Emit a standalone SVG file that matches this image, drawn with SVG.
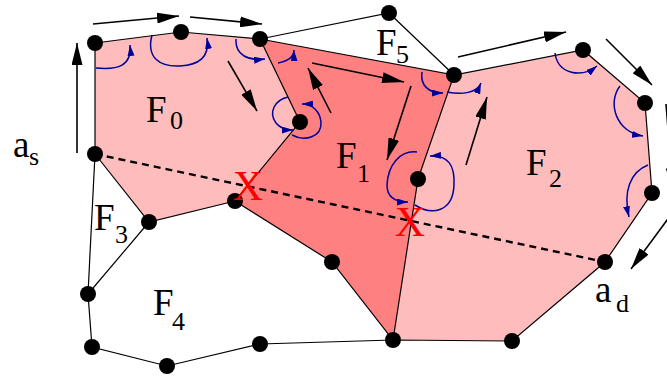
<svg xmlns="http://www.w3.org/2000/svg" width="667" height="376" viewBox="0 0 667 376">
<defs>
<marker id="ah" markerUnits="userSpaceOnUse" viewBox="0 0 22 11" refX="22" refY="5.5" markerWidth="22" markerHeight="11" orient="auto"><path d="M0,0 L22,5.5 L0,11 z" fill="#000"/></marker>
<marker id="bh" markerUnits="userSpaceOnUse" viewBox="0 0 11 7" refX="11" refY="3.5" markerWidth="11" markerHeight="7" orient="auto"><path d="M0,0 L11,3.5 L0,7 z" fill="#00009c"/></marker>
<style>
.e{stroke:#000;stroke-width:1.2;fill:none}
.a{stroke:#000;stroke-width:1.6;fill:none;marker-end:url(#ah)}
.b{stroke:#00009c;stroke-width:1.5;fill:none;marker-end:url(#bh)}
.n{fill:#000}
.t{font-family:"Liberation Serif","Times New Roman",serif;fill:#000}
.m{font-size:37px}
.s{font-size:26px}
.x{font-family:"Liberation Serif","Times New Roman",serif;font-size:42px;fill:#ff0000;text-anchor:middle}
</style>
</defs>
<g id="faces">
<polygon id="F0" points="95,43 181,32 260,39 300,122 235,201 149,222 95,154" fill="#ffbcbc"/>
<polygon id="F1" points="260,39 454,75 418,179 393,340 332,262 235,201 300,122" fill="#ff8080"/>
<polygon id="F2" points="454,75 583,50 645,103 652,193 605,262 512,341 393,340 418,179" fill="#ffbcbc"/>
</g>
<g id="connectors">
<path class="e" d="M95,43 L181,32 L260,39 L389,13 L454,75 L583,50 L645,103 L652,193 L605,262 L512,341 L393,340 L260,344 L167,366 L92,347 L88,294 L95,154 L95,43"/>
<path class="e" d="M260,39 L454,75 L418,179 L393,340 L332,262 L235,201 L300,122 L260,39"/>
<path class="e" d="M235,201 L149,222 L95,154 M149,222 L88,294"/>
<line x1="95" y1="154" x2="605" y2="262" stroke="#000" stroke-width="2.4" stroke-dasharray="7,5"/>
<line class="a" x1="77" y1="153" x2="77" y2="43"/>
<line class="a" x1="93" y1="24" x2="179" y2="16"/>
<line class="a" x1="190" y1="17" x2="262" y2="24"/>
<line class="a" x1="228" y1="61" x2="257" y2="111"/>
<line class="a" x1="331" y1="113" x2="308" y2="68"/>
<line class="a" x1="312" y1="63" x2="404" y2="82"/>
<line class="a" x1="411" y1="86" x2="387" y2="160"/>
<line class="a" x1="466" y1="165" x2="487" y2="97"/>
<line class="a" x1="458" y1="57" x2="566" y2="32"/>
<line class="a" x1="606" y1="39" x2="652" y2="85"/>
<line class="a" x1="670" y1="216" x2="631" y2="269"/>
<line class="a" x1="666" y1="104" x2="673" y2="190"/>
<path class="b" d="M96,68 C118,70 132,66 130,45"/>
<path class="b" d="M152,35 C146,58 160,67 180,66 C198,65 210,58 207,38"/>
<path class="b" d="M236,39 C235,55 248,61 265,59"/>
<path class="b" d="M278,63 C288,61 294,57 294,50"/>
<path class="b" d="M288,97 C275,100 268,112 276,123 C280,128 286,130 293,130"/>
<path class="b" d="M292,135 C305,142 322,137 321,122 C320,112 313,104 302,104"/>
<path class="b" d="M422,72 C420,85 428,93 443,93"/>
<path class="b" d="M447,92 C462,95 477,93 481,83"/>
<path class="b" d="M417,152 C400,150 388,165 387,185 C387,197 395,202 408,202"/>
<path class="b" d="M415,205 C432,216 453,212 454,185 C455,165 448,155 430,156"/>
<path class="b" d="M555,53 C558,75 582,78 597,66"/>
<path class="b" d="M620,86 C607,103 616,132 643,136"/>
<path class="b" d="M648,165 C630,172 623,192 629,217"/>
</g>
<g id="nodes">
<circle class="n" cx="95" cy="43" r="8"/>
<circle class="n" cx="181" cy="32" r="8"/>
<circle class="n" cx="260" cy="39" r="8"/>
<circle class="n" cx="389" cy="13" r="8"/>
<circle class="n" cx="454" cy="75" r="8"/>
<circle class="n" cx="583" cy="50" r="8"/>
<circle class="n" cx="645" cy="103" r="8"/>
<circle class="n" cx="652" cy="193" r="8"/>
<circle class="n" cx="605" cy="262" r="8"/>
<circle class="n" cx="512" cy="341" r="8"/>
<circle class="n" cx="393" cy="340" r="8"/>
<circle class="n" cx="332" cy="262" r="8"/>
<circle class="n" cx="235" cy="201" r="8"/>
<circle class="n" cx="149" cy="222" r="8"/>
<circle class="n" cx="95" cy="154" r="8"/>
<circle class="n" cx="88" cy="294" r="8"/>
<circle class="n" cx="92" cy="347" r="8"/>
<circle class="n" cx="167" cy="366" r="8"/>
<circle class="n" cx="260" cy="344" r="8"/>
<circle class="n" cx="300" cy="122" r="8"/>
<circle class="n" cx="418" cy="179" r="8"/>
</g>
<g id="labels">
<text class="t m" x="146" y="122">F</text><text class="t s" x="170" y="129">0</text>
<text class="t m" x="336" y="168">F</text><text class="t s" x="357" y="182">1</text>
<text class="t m" x="376" y="55">F</text><text class="t s" x="396" y="63">5</text>
<text class="t m" x="526" y="175">F</text><text class="t s" x="549" y="187">2</text>
<text class="t m" x="94" y="230">F</text><text class="t s" x="115" y="243">3</text>
<text class="t m" x="153" y="315">F</text><text class="t s" x="172" y="330">4</text>
<text class="t m" x="13" y="157">a</text><text class="t s" x="29" y="165">s</text>
<text class="t m" x="595" y="302">a</text><text class="t s" x="616" y="312">d</text>
<text class="x" x="248" y="200">X</text>
<text class="x" x="410" y="236">X</text>
</g>
</svg>
